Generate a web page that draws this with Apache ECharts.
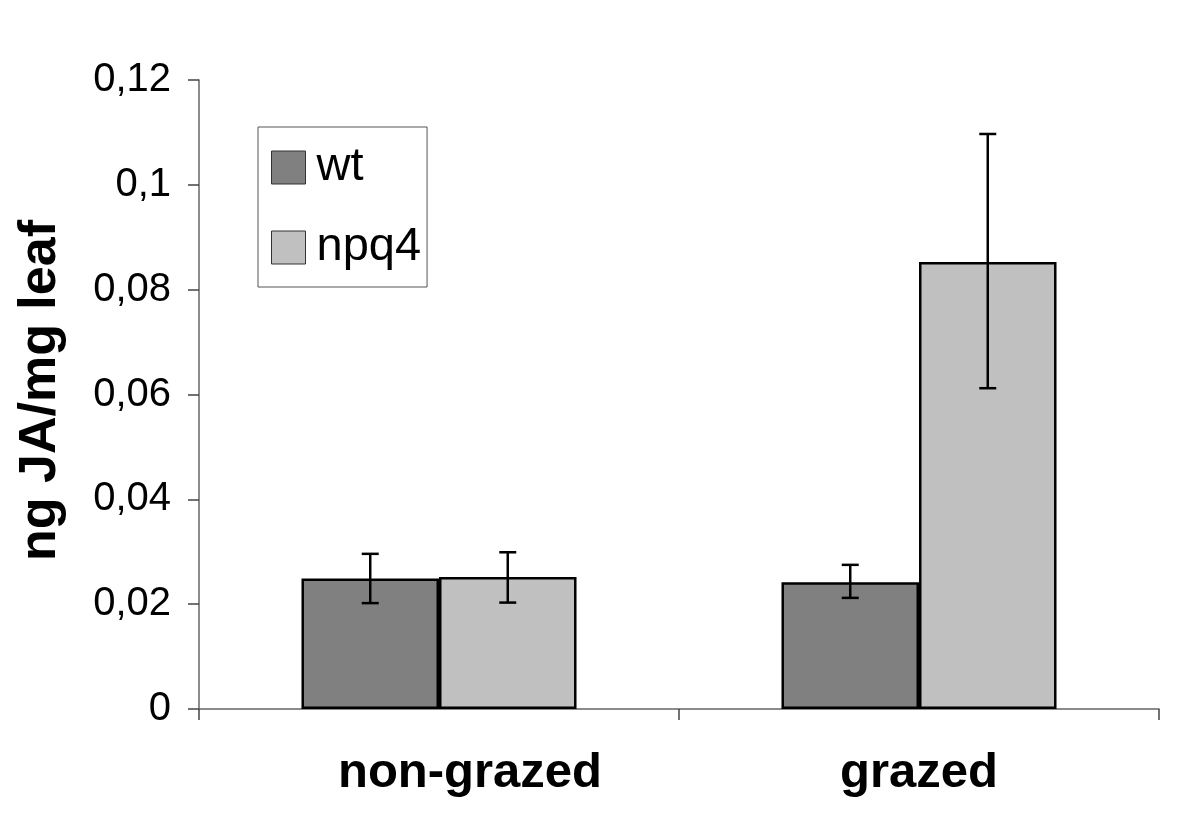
<!DOCTYPE html>
<html>
<head>
<meta charset="utf-8">
<script src="https://cdn.jsdelivr.net/npm/echarts@6/dist/echarts.min.js"></script>
<style>html,body{margin:0;padding:0;background:#fff;}#c{width:1200px;height:834px;}</style>
</head>
<body>
<div id="c"></div>
<script>
const categories = ['non-grazed', 'grazed'];
const seriesNames = ['wt', 'npq4'];
const wtValues = [0.0249, 0.0242];
const npq4Values = [0.0252, 0.0853];
const wtErrLow = [0.0202, 0.0212];
const wtErrHigh = [0.0296, 0.0275];
const npq4ErrLow = [0.0203, 0.0612];
const npq4ErrHigh = [0.0299, 0.1097];
const yTicks = [0, 0.02, 0.04, 0.06, 0.08, 0.1, 0.12];

const FONT = 'Liberation Sans, Arial, sans-serif';
const CAT_GAP = 0.427;

function errSeries(name, low, high, sign) {
  return {
    type: 'custom',
    name: name + '-err',
    z: 10,
    silent: true,
    data: categories.map((c, i) => [i, low[i], high[i]]),
    renderItem: function (params, api) {
      const idx = api.value(0);
      const pLow = api.coord([idx, api.value(1)]);
      const pHigh = api.coord([idx, api.value(2)]);
      const catW = api.size([1, 0])[0];
      const barW = catW * (1 - CAT_GAP) / 2;
      const x = pLow[0] + sign * barW / 2;
      const cap = 8.5;
      const style = { stroke: '#000', lineWidth: 2.5, fill: null };
      return {
        type: 'group',
        children: [
          { type: 'line', shape: { x1: x, y1: pLow[1], x2: x, y2: pHigh[1] }, style: style },
          { type: 'line', shape: { x1: x - cap, y1: pLow[1], x2: x + cap, y2: pLow[1] }, style: style },
          { type: 'line', shape: { x1: x - cap, y1: pHigh[1], x2: x + cap, y2: pHigh[1] }, style: style }
        ]
      };
    }
  };
}

const labelRich = {
  a: { fontFamily: FONT, fontSize: 49, fontWeight: 'bold', color: '#000', padding: [0, 0, 0, 62] },
  b: { fontFamily: FONT, fontSize: 49, fontWeight: 'bold', color: '#000', padding: [0, 0, 0, 0] }
};

const chart = echarts.init(document.getElementById('c'));
chart.setOption({
  backgroundColor: '#fff',
  animation: false,
  grid: { left: 199, right: 41, top: 80, bottom: 125 },
  legend: {
    data: seriesNames,
    orient: 'vertical',
    left: 258,
    top: 127,
    borderColor: '#555',
    borderWidth: 1,
    padding: [17, 6, 16, 13],
    itemWidth: 34,
    itemHeight: 33,
    itemGap: 33,
    icon: 'rect',
    itemStyle: { borderColor: '#333', borderWidth: 1 },
    textStyle: { fontFamily: FONT, fontSize: 47, color: '#000', lineHeight: 33, padding: [0, 0, 0, 6] }
  },
  xAxis: {
    type: 'category',
    data: categories,
    axisLine: { lineStyle: { color: '#666', width: 1.5 } },
    axisTick: { show: true, length: 11, lineStyle: { color: '#444', width: 1.5 } },
    axisLabel: {
      margin: 40,
      formatter: function (v, i) { return i === 0 ? '{a|' + v + '}' : '{b|' + v + '}'; },
      rich: labelRich
    }
  },
  yAxis: {
    type: 'value',
    min: 0,
    max: 0.12,
    interval: 0.02,
    name: 'ng JA/mg leaf',
    nameLocation: 'middle',
    nameGap: 132,
    nameTextStyle: { fontFamily: FONT, fontSize: 52, fontWeight: 'bold', color: '#000', padding: [0, 0, 0, 8] },
    axisLine: { show: true, lineStyle: { color: '#666', width: 1.5 } },
    axisTick: { show: true, length: 11, lineStyle: { color: '#444', width: 1.5 } },
    splitLine: { show: false },
    axisLabel: {
      fontFamily: FONT, fontSize: 40, color: '#000', margin: 28,
      formatter: function (v) {
        const t = yTicks.find(k => Math.abs(k - v) < 1e-9);
        return String(Number((t !== undefined ? t : v).toFixed(2))).replace('.', ',');
      }
    }
  },
  series: [
    {
      name: seriesNames[0], type: 'bar', data: wtValues,
      barGap: '0%', barCategoryGap: (CAT_GAP * 100) + '%',
      itemStyle: { color: '#808080', borderColor: '#000', borderWidth: 2.5 }
    },
    {
      name: seriesNames[1], type: 'bar', data: npq4Values,
      barGap: '0%', barCategoryGap: (CAT_GAP * 100) + '%',
      itemStyle: { color: '#c0c0c0', borderColor: '#000', borderWidth: 2.5 }
    },
    errSeries(seriesNames[0], wtErrLow, wtErrHigh, -1),
    errSeries(seriesNames[1], npq4ErrLow, npq4ErrHigh, 1)
  ]
});
</script>
</body>
</html>
